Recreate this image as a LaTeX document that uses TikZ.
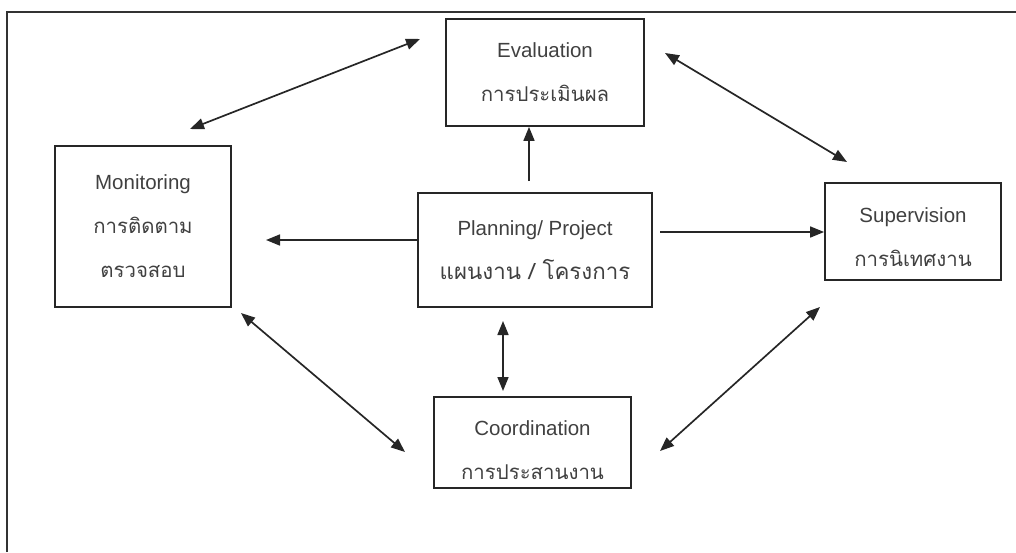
\documentclass[tikz,border=0pt]{standalone}
\usepackage{fontspec}
\setmainfont{Liberation Sans}
\newfontfamily\thaifont[Script=Thai]{Loma}
\usetikzlibrary{arrows.meta}

\tikzset{
  box/.style={draw=black!85, line width=1.8pt, rectangle, inner sep=0pt,
    align=center, text=black!75,
    font=\fontsize{20.5}{44}\selectfont},
  link/.style={draw=black!85, line width=1.7pt,
    -{Triangle[length=14pt,width=11pt]}},
  both/.style={draw=black!85, line width=1.7pt,
    {Triangle[length=14pt,width=11pt]}-{Triangle[length=14pt,width=11pt]}},
}
\newcommand{\thtext}[1]{{\thaifont\fontsize{20.4}{44}\selectfont #1}}
\newcommand{\thbigtext}[1]{{\thaifont\fontsize{22.3}{44}\selectfont #1}}
% taller first line pushes a block of lines down inside its box
\newcommand{\lift}[1]{\rule{0pt}{#1}}

\begin{document}
\begin{tikzpicture}[x=1pt,y=-1pt]
  \useasboundingbox (0,0) rectangle (1016,552);

  % open outer frame
  \draw[line width=1.8pt, black!80] (7,552) -- (7,12) -- (1016,12);

  % boxes
  \node[box, minimum width=198pt, minimum height=107pt] (eval) at (545,72.5)
    {Evaluation\\\thtext{การประเมินผล}};
  \node[box, minimum width=176pt, minimum height=161pt] (mon) at (143,226.5)
    {\lift{12pt}Monitoring\\\thtext{การติดตาม}\\\thtext{ตรวจสอบ}};
  \node[box, minimum width=234pt, minimum height=114pt] (plan) at (535,250)
    {Planning/ Project\\\thbigtext{แผนงาน / โครงการ}};
  \node[box, minimum width=176pt, minimum height=97pt] (sup) at (913,231.5)
    {\lift{26pt}Supervision\\\thtext{การนิเทศงาน}};
  \node[box, minimum width=197pt, minimum height=91pt] (coord) at (532.5,442.5)
    {\lift{30pt}Coordination\\\thtext{การประสานงาน}};

  % free ends of the connectors
  \coordinate (em1) at (420,39);
  \coordinate (em2) at (190,129);
  \coordinate (es1) at (665,53);
  \coordinate (es2) at (847,162);
  \coordinate (pu) at (529,181);
  \coordinate (pl) at (266,240);
  \coordinate (pr) at (660,232);
  \coordinate (pc1) at (503,321);
  \coordinate (pc2) at (503,391);
  \coordinate (mc1) at (241,313);
  \coordinate (mc2) at (405,452);
  \coordinate (sc1) at (820,307);
  \coordinate (sc2) at (660,451);

  % connectors
  \draw[both] (em2) -- (em1);
  \draw[both] (es1) -- (es2);
  \draw[link] (pu) -- (pu |- eval.south);
  \draw[link] (plan.west |- pl) -- (pl);
  \draw[link] (pr) -- (sup.west |- pr);
  \draw[both] (pc1) -- (pc2);
  \draw[both] (mc1) -- (mc2);
  \draw[both] (sc1) -- (sc2);
\end{tikzpicture}
\end{document}
